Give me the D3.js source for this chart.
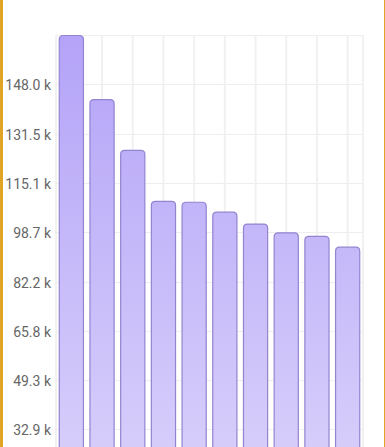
<!DOCTYPE html>
<html>
<head>
<meta charset="utf-8">
<script src="https://cdn.jsdelivr.net/npm/d3@7/dist/d3.min.js"></script>
<style>
html,body{margin:0;padding:0;background:#fff;overflow:hidden;}
svg{display:block;}
</style>
</head>
<body>
<svg id="c" width="385" height="447"></svg>
<script>
const categories = ["A","B","C","D","E","F","G","H","I","J"];
const values = [164400, 143000, 126100, 109100, 108800, 105500, 101500, 98600, 97400, 93800];
const yMax = 164400;
const tickValues = [1,2,3,4,5,6,7,8,9,10].map(i => yMax * i / 10);
const tickLabels = ["16.4 k","32.9 k","49.3 k","65.8 k","82.2 k","98.7 k","115.1 k","131.5 k","148.0 k","164.4 k"];

(function(){
const svg = d3.select("#c");
const W = 385, H = 447;
const pLeft = 56, pRight = 363, pTop = 35, pBottom = 528;

const x = d3.scaleBand().domain(categories).range([pLeft, pRight]).paddingInner(0.18).paddingOuter(0.09);
const y = d3.scaleLinear().domain([0, yMax]).range([pBottom, pTop]);

const defs = svg.append("defs");
const g = defs.append("linearGradient").attr("id","barGrad")
  .attr("gradientUnits","userSpaceOnUse").attr("x1",0).attr("x2",0).attr("y1",pTop).attr("y2",pBottom);
g.append("stop").attr("offset","0%").attr("stop-color","#b4a3f8");
g.append("stop").attr("offset","100%").attr("stop-color","#ddd5fb");

// horizontal grid
svg.append("g").selectAll("line").data(tickValues).join("line")
  .attr("x1", pLeft).attr("x2", pRight)
  .attr("y1", d => Math.round(y(d)) + 0.5).attr("y2", d => Math.round(y(d)) + 0.5)
  .attr("stroke", "#eeeeee").attr("stroke-width", 1);

// vertical grid
const vx = [pLeft, pRight].concat(categories.map(c => x(c) + x.bandwidth() / 2));
svg.append("g").selectAll("line").data(vx).join("line")
  .attr("x1", d => d).attr("x2", d => d)
  .attr("y1", pTop).attr("y2", pBottom)
  .attr("stroke", "#f1f1f1").attr("stroke-width", 2);

// bars with rounded top corners
const r = 4;
function barPath(x0, y0, w, y1) {
  return `M${x0},${y1}L${x0},${y0 + r}Q${x0},${y0} ${x0 + r},${y0}L${x0 + w - r},${y0}Q${x0 + w},${y0} ${x0 + w},${y0 + r}L${x0 + w},${y1}`;
}
svg.append("g").selectAll("path").data(values).join("path")
  .attr("d", (d, i) => barPath(x(categories[i]) + 0.5, y(d) + 0.5, x.bandwidth() - 1, pBottom))
  .attr("fill", "url(#barGrad)")
  .attr("stroke", "#9384d0").attr("stroke-width", 1.2);

// y labels (only those inside the visible window)
const visible = tickValues.map((v, i) => ({v, label: tickLabels[i]}))
  .filter(d => y(d.v) < H - 8 && d.v < yMax);
svg.append("g").selectAll("text").data(visible).join("text")
  .attr("x", 51).attr("y", d => y(d.v) + 1)
  .attr("text-anchor", "end").attr("dominant-baseline", "central")
  .attr("font-family", "Roboto, sans-serif").attr("font-size", 14)
  .attr("fill", "#666666")
  .text(d => d.label);

// frame borders
svg.append("rect").attr("x", 0).attr("y", 0).attr("width", 3).attr("height", H).attr("fill", "#e0a526");
svg.append("rect").attr("x", 384).attr("y", 0).attr("width", 1).attr("height", H).attr("fill", "#e0a526");
})();
</script>
</body>
</html>
